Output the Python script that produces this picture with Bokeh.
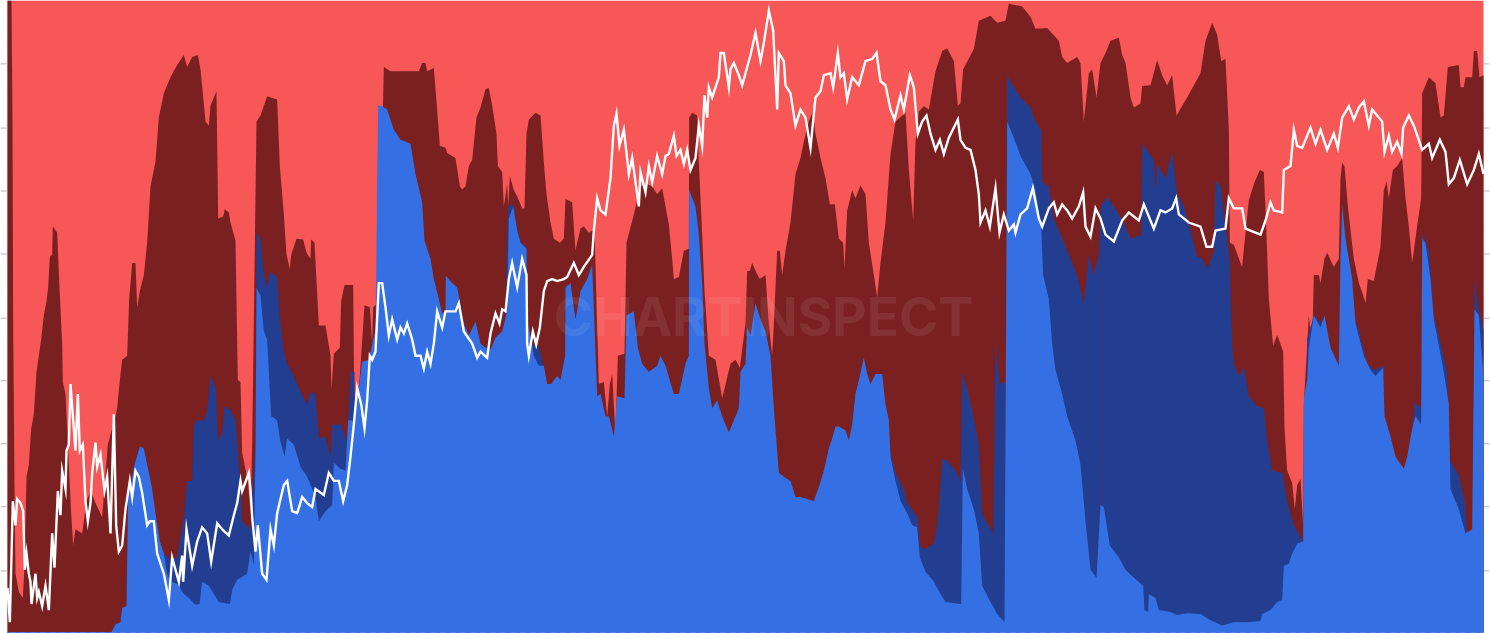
from bokeh.plotting import figure
from bokeh.embed import file_html
from bokeh.resources import INLINE
from bokeh.core.properties import value
from bokeh.models import Range1d, Span

# Readings per panel: (horizontal reading, vertical reading); panels start at 0, 1200, 2400, 3300
dark_red_a = [(21,0),(33,0),(36,300),(38,800),(42,1200),(45,1420),(55,1465),(67,1480),(72,1400),(78,1180),(85,1150),(92,1060),(100,1025),(108,920),(115,880),(122,840),(130,780),(138,745),(143,710),(148,635),(155,630),(157,560),(170,575),(178,730),(185,850),(187,945),(195,975),(205,1150),(212,1270),(218,1350),(225,1310),(245,1320),(258,1240),(270,1215),(285,1245),(305,1280),(322,1100),(345,1030),(350,1010),(358,940),(365,890),(380,880),(386,740),(395,650),(405,650),(410,760),(418,720),(430,680),(440,600),(450,460),(465,400),(475,290),(490,230),(510,190),(530,160),(550,135),(560,165),(575,140),(592,135),(600,170),(615,300),(625,310),(630,260),(648,225),(653,540),(668,535),(673,517),(685,525),(690,550),(705,595),(712,940),(720,945),(725,1120),(742,1190),(750,1270),(755,1100),(768,300),(780,285),(800,237),(830,245),(838,410),(850,530),(858,630),(868,665),(872,630),(888,590),(908,592),(918,625),(930,640),(932,592),(942,600),(955,805),(975,805),(990,880),(993,965),(1000,875),(1018,860),(1022,745),(1032,705),(1058,705),(1062,1060),(1078,930),(1092,755),(1108,760),(1115,850),(1118,760),(1130,750),(1133,300),(1146,320),(1150,165),(1170,175)]
dark_red_b = [(0,175),(40,175),(55,175),(65,155),(75,155),(80,175),(100,167),(108,250),(118,360),(135,365),(140,378),(165,390),(178,460),(185,468),(195,460),(205,410),(215,395),(228,290),(240,265),(255,220),(265,217),(275,260),(288,330),(292,410),(305,425),(310,510),(320,455),(323,510),(328,435),(340,470),(350,485),(365,515),(372,515),(378,330),(385,295),(405,278),(420,285),(430,400),(438,480),(450,550),(460,590),(478,600),(490,590),(495,492),(515,500),(525,620),(530,600),(540,565),(550,560),(565,575),(575,570),(582,570),(595,950),(610,945),(620,1030),(628,950),(635,925),(640,1000),(645,1080),(652,880),(672,875),(678,600),(700,530),(720,460),(740,455),(755,460),(770,480),(785,465),(795,510),(805,555),(815,640),(820,690),(835,685),(850,620),(865,615),(866,290),(875,278),(890,285),(895,400),(905,580),(912,720),(925,880),(945,890),(965,985),(990,900),(1005,890),(1018,910),(1035,800),(1040,670),(1048,670),(1055,650),(1068,675),(1078,690),(1095,680),(1105,800),(1115,880),(1120,800),(1130,620),(1138,620),(1145,680),(1155,620),(1170,550),(1185,430)]
dark_red_c = [(0,390),(10,350),(25,300),(38,275),(45,330),(60,390),(75,440),(88,505),(103,505),(115,590),(128,600),(132,665),(140,520),(155,470),(165,490),(180,458),(195,480),(205,600),(220,680),(230,735),(240,650),(255,550),(270,380),(285,300),(315,278),(325,420),(338,545),(345,350),(355,275),(370,262),(385,270),(405,175),(425,125),(440,118),(460,150),(472,260),(480,255),(488,170),(520,120),(535,50),(570,38),(590,55),(615,50),(625,8),(665,15),(690,40),(705,70),(740,68),(775,100),(785,140),(800,155),(830,140),(840,155),(850,300),(865,180),(875,170),(888,240)]
dark_red_d = [(0,155),(15,130),(30,100),(55,92),(65,135),(75,155),(90,240),(100,265),(120,255),(125,212),(150,210),(170,148),(185,185),(200,210),(215,185),(228,285),(260,240),(300,180),(315,100),(335,55),(350,85),(362,150),(375,145),(385,320),(388,600),(400,605),(420,650),(425,660),(432,600),(445,495),(462,450),(478,420),(490,425),(497,560),(505,740),(518,855),(530,828),(548,870),(552,1060),(560,1165),(575,1195),(583,1260),(590,1200),(600,1185),(608,1300),(610,1000),(625,780),(635,860),(640,680),(655,680),(660,700),(672,640),(680,625),(700,660),(715,640),(720,440),(725,402),(732,410),(742,510),(760,640),(775,700),(790,735),(795,750),(802,690),(820,695),(840,610),(850,470),(858,448),(865,490),(877,420),(890,410),(905,390),(915,490),(925,560),(935,650),(948,570),(962,490),(965,230),(985,190),(1005,205),(1020,290),(1030,285),(1042,165),(1075,160),(1080,215),(1090,215),(1095,190),(1115,190),(1120,125),(1130,125),(1137,190),(1149,185)]

blue_a = [(21,1564),(333,1564),(345,1545),(360,1540),(365,1505),(378,1500),(383,1230),(395,1180),(402,1150),(418,1105),(430,1110),(440,1150),(455,1210),(465,1270),(478,1340),(490,1370),(500,1420),(510,1440),(530,1445),(550,1470),(565,1480),(585,1497),(597,1495),(605,1440),(625,1450),(655,1490),(688,1495),(695,1460),(710,1435),(740,1420),(750,1365),(760,1400),(765,1120),(768,712),(780,730),(790,820),(800,840),(812,1030),(830,1040),(838,1085),(852,1130),(860,1085),(880,1100),(900,1155),(920,1180),(945,1230),(955,1290),(975,1265),(995,1250),(1000,1145),(1020,1160),(1035,1165),(1043,1040),(1060,1040),(1075,960),(1085,895),(1105,890),(1125,815),(1133,260),(1145,262),(1160,270),(1180,320)]
blue_b = [(0,345),(30,355),(45,430),(65,500),(72,595),(90,640),(100,690),(112,730),(125,775),(135,770),(136,682),(155,700),(170,710),(190,800),(205,830),(225,795),(240,850),(255,860),(270,865),(285,835),(305,820),(320,770),(325,540),(338,510),(350,570),(360,600),(378,615),(382,800),(395,855),(400,880),(415,905),(430,905),(440,950),(452,950),(470,930),(480,940),(494,880),(495,710),(510,700),(525,790),(540,720),(560,690),(575,655),(590,980),(600,975),(615,1030),(625,1030),(640,1080),(650,980),(672,985),(678,780),(700,770),(712,860),(725,900),(745,920),(770,905),(780,880),(795,905),(820,975),(835,975),(855,900),(865,880),(866,470),(885,510),(895,580),(905,700),(912,850),(925,960),(935,1010),(950,990),(965,1030),(985,1070),(1000,1040),(1015,1010),(1020,920),(1035,900),(1040,810),(1050,830),(1065,750),(1080,790),(1095,820),(1110,880),(1120,1010),(1135,1170),(1150,1180),(1170,1190),(1185,1230)]
blue_c = [(0,1230),(40,1240),(55,1205),(70,1165),(85,1110),(95,1085),(105,1055),(115,1055),(135,1065),(145,1090),(155,1050),(165,975),(178,930),(190,885),(200,925),(210,950),(225,925),(245,925),(255,1000),(265,1040),(270,1130),(285,1190),(300,1240),(320,1270),(335,1300),(350,1305),(358,1380),(375,1415),(400,1440),(420,1470),(435,1490),(482,1495),(487,1160),(500,1210),(520,1260),(535,1320),(545,1450),(570,1490),(590,1520),(612,1540),(620,300),(640,340),(660,385),(690,430),(705,470),(722,560),(728,680),(745,740),(755,850),(765,915),(785,975),(800,1030),(825,1090),(840,1150),(855,1290),(870,1410),(888,1430)]
blue_d = [(0,1250),(10,1255),(28,1350),(55,1380),(75,1410),(100,1430),(128,1450),(132,1510),(143,1515),(145,1470),(165,1480),(175,1510),(210,1515),(230,1522),(260,1518),(300,1520),(330,1535),(365,1548),(400,1540),(440,1540),(480,1537),(485,1520),(510,1510),(530,1490),(545,1485),(550,1400),(565,1395),(575,1370),(590,1345),(608,1340),(610,985),(620,940),(625,860),(640,780),(660,810),(672,780),(690,860),(715,905),(720,640),(725,505),(735,590),(755,690),(765,800),(790,880),(810,915),(825,930),(848,910),(852,1030),(870,1080),(885,1130),(910,1160),(920,1130),(935,1060),(945,1030),(962,1050),(965,590),(975,600),(990,690),(1000,790),(1030,920),(1045,1000),(1050,1210),(1075,1260),(1095,1320),(1115,1310),(1122,765),(1135,780),(1149,930)]

dark_blue_a = [(470,1340),(490,1370),(510,1385),(530,1380),(550,1280),(560,1190),(575,1190),(580,1050),(590,1040),(610,1040),(620,1020),(630,930),(645,960),(653,1090),(665,1070),(672,1005),(690,1015),(705,1040),(720,1200),(725,1290),(750,1310),(765,1100),(768,575),(780,590),(790,680),(800,710),(808,672),(830,685),(838,790),(850,870),(860,900),(880,930),(900,970),(920,1000),(930,970),(945,975),(955,1085),(975,1080),(990,1130),(995,1050),(1020,1050),(1030,1070),(1040,1095),(1050,920),(1062,920),(1065,1060),(1075,960)]
dark_blue_b = [(315,770),(323,510),(338,505),(350,565),(360,598),(378,612),(385,850),(415,855),(428,905),(440,965),(452,970),(470,940),(482,945),(494,880)]
dark_blue_c = [(255,1000),(270,1120),(285,1170),(310,1210),(320,1245),(352,1280),(358,1350),(370,1360),(400,1345),(408,1310),(415,1260),(425,1135),(440,1140),(465,1165),(480,1190),(485,920),(500,965),(515,1015),(535,1100),(545,1270),(578,1320),(585,850),(598,950),(615,945),(618,1530),(620,185),(640,215),(660,240),(690,265),(705,300),(722,320),(726,450),(745,460),(760,540),(790,600),(810,640),(830,680),(850,750),(865,630),(880,680),(895,630),(900,510)]
dark_blue_d = [(0,510),(20,487),(40,510),(70,550),(90,590),(122,580),(125,355),(160,395),(165,470),(170,405),(195,440),(215,375),(230,480),(250,510),(270,570),(290,635),(305,640),(322,665),(340,620),(345,445),(360,460),(375,560),(387,640),(395,850),(400,900),(415,930),(430,910),(445,980),(470,1005),(490,1010),(500,1090),(515,1165),(545,1170),(560,1240),(580,1300),(608,1340)]
dark_blue_e = [(620,840),(640,780),(665,800),(672,780),(685,850),(712,905)]
dark_blue_f = [(760,780),(775,820),(800,900),(820,915),(848,905)]
dark_blue_g = [(850,1040),(880,1140),(910,1165),(930,1145),(942,995),(962,1010),(965,577),(985,620),(1000,780),(1040,920),(1048,1140),(1075,1175),(1095,1250),(1100,1330),(1118,1310),(1122,690),(1135,770),(1149,815)]

white_a = [(21,1455),(28,1540),(37,1240),(45,1300),(50,1235),(60,1245),(68,1265),(73,1410),(78,1370),(85,1420),(90,1440),(93,1495),(105,1420),(110,1480),(115,1465),(125,1500),(135,1450),(145,1510),(155,1320),(162,1405),(172,1215),(180,1275),(185,1165),(195,1210),(198,1115),(205,1100),(210,950),(218,1040),(225,1115),(232,975),(238,1115),(247,1100),(255,1240),(262,1290),(270,1245),(275,1170),(285,1095),(290,1155),(300,1125),(312,1215),(320,1180),(325,1250),(330,1320),(340,1025),(347,1300),(355,1365),(365,1350),(375,1260),(388,1190),(395,1230),(405,1165),(415,1180),(425,1220),(440,1300),(448,1290),(460,1290),(470,1370),(490,1420),(505,1485),(515,1380),(525,1410),(535,1440),(545,1375),(548,1440),(558,1310),(575,1400),(590,1340),(605,1305),(620,1320),(632,1390),(650,1295),(665,1310),(685,1325),(700,1275),(710,1245),(720,1190),(725,1215),(745,1170),(750,1210),(755,1280),(765,1365),(772,1300),(785,1420),(798,1435),(810,1310),(820,1350),(830,1270),(840,1235),(850,1200),(860,1190),(875,1265),(890,1270),(905,1230),(920,1245),(935,1255),(945,1210),(970,1225),(985,1170),(1000,1190),(1015,1190),(1028,1240),(1040,1200),(1050,1130),(1060,1050),(1070,960),(1082,1000),(1092,1060),(1100,990),(1108,880),(1115,890),(1125,870),(1135,700),(1145,700),(1155,760),(1165,830),(1175,790),(1190,840)]
white_b = [(0,810),(10,825),(20,800),(35,840),(45,880),(60,880),(70,912),(80,870),(90,900),(100,850),(110,770),(125,810),(135,770),(165,770),(175,750),(190,820),(215,850),(230,885),(240,870),(260,885),(270,825),(285,775),(297,800),(305,765),(315,770),(325,690),(335,650),(350,710),(365,640),(378,680),(380,850),(385,880),(397,820),(407,852),(418,810),(430,720),(440,695),(455,690),(470,695),(490,690),(500,685),(520,650),(535,680),(550,660),(575,630),(580,570),(590,490),(600,520),(615,530),(630,440),(640,310),(648,280),(657,360),(670,320),(685,430),(695,390),(715,510),(720,425),(735,475),(745,410),(755,450),(770,385),(785,430),(795,385),(805,380),(820,335),(828,385),(840,370),(850,405),(860,370),(870,420),(885,390),(895,310),(905,360),(912,235),(920,290),(925,215),(935,240),(955,190),(960,130),(970,130),(985,215),(990,170),(1000,155),(1015,185),(1025,210),(1050,135),(1065,80),(1080,150),(1090,105),(1105,25),(1118,75),(1130,270),(1135,130),(1150,150),(1155,210),(1170,230),(1185,310)]
white_c = [(0,270),(15,290),(30,365),(45,240),(60,225),(70,185),(90,180),(98,215),(112,130),(120,190),(130,180),(140,245),(155,190),(175,210),(195,150),(215,145),(228,130),(240,200),(255,210),(270,270),(282,295),(300,235),(310,270),(328,185),(340,215),(352,330),(365,300),(378,285),(390,330),(405,370),(418,345),(430,380),(445,340),(472,295),(480,345),(495,365),(510,370),(525,420),(535,480),(540,550),(555,520),(568,560),(585,465),(597,575),(610,530),(625,570),(640,555),(645,575),(660,530),(680,515),(697,465),(715,540),(725,560),(745,515),(760,500),(770,530),(785,505),(800,520),(815,540),(835,510),(848,475),(855,560),(870,585),(885,515)]
white_d = [(0,540),(15,580),(40,597),(65,545),(85,525),(115,545),(130,505),(160,565),(180,520),(195,525),(215,515),(227,490),(235,530),(265,550),(300,560),(318,610),(335,610),(345,570),(375,565),(385,490),(400,515),(425,515),(435,565),(480,580),(495,545),(510,500),(520,520),(545,525),(550,420),(570,410),(580,320),(590,360),(605,365),(630,315),(645,355),(660,320),(680,370),(700,330),(712,365),(725,290),(745,262),(760,295),(775,265),(790,250),(805,310),(815,270),(845,300),(852,375),(865,335),(875,375),(890,350),(903,380),(908,315),(925,285),(940,310),(965,370),(985,355),(995,390),(1018,345),(1035,375),(1045,455),(1060,440),(1078,395),(1100,455),(1120,420),(1135,380),(1149,430)]

tick_values = [157, 316, 472, 628, 787, 942, 1098, 1254, 1413]
watermark = "CHARTINSPECT"

PANEL = [0, 1200, 2400, 3300]
BASE = 1568
PLOT_START, PLOT_END, WIDTH_UNITS = 21, 4449, 4470

def join(*panels):
    xs, ys = [], []
    for start, pts in panels:
        xs += [a + start for a, _ in pts]
        ys += [b for _, b in pts]
    return xs, ys

p = figure(width=1490, height=633, output_backend="svg", toolbar_location=None,
           x_range=Range1d(0, WIDTH_UNITS), y_range=Range1d(BASE, 0),
           x_axis_location=None, y_axis_location=None, min_border=0,
           background_fill_color="white", border_fill_color="white", outline_line_color=None)
p.grid.visible = False

p.varea([PLOT_START, PLOT_END], y1=[BASE, BASE], y2=[0, 0], color="#F75757")

n = len(tick_values)
p.segment([0] * n, tick_values, [18] * n, tick_values, line_color="#b4b4b4", line_width=1)
p.segment([PLOT_END] * n, tick_values, [PLOT_END + 18] * n, tick_values, line_color="#b4b4b4", line_width=1)

x, y = join((PANEL[0], dark_red_a), (PANEL[1], dark_red_b), (PANEL[2], dark_red_c), (PANEL[3], dark_red_d))
p.varea(x, y1=[BASE] * len(x), y2=y, color="#7B2020")

for start, pts in ((PANEL[0], dark_blue_a), (PANEL[1], dark_blue_b), (PANEL[2], dark_blue_c),
                   (PANEL[3], dark_blue_d), (PANEL[3], dark_blue_e), (PANEL[3], dark_blue_f), (PANEL[3], dark_blue_g)):
    x, y = join((start, pts))
    p.varea(x, y1=[BASE] * len(x), y2=y, color="#233E90")

x, y = join((PANEL[0], blue_a), (PANEL[1], blue_b), (PANEL[2], blue_c), (PANEL[3], blue_d))
p.varea(x, y1=[BASE] * len(x), y2=y, color="#3470E4")

x, y = join((PANEL[0], white_a), (PANEL[1], white_b), (PANEL[2], white_c), (PANEL[3], white_d))
p.line(x, y, line_color="white", line_width=2.4, line_join="miter")

p.text([1660], [785], text=[watermark], text_color="white", text_alpha=0.08,
       text_font=value("Inter"), text_font_style="bold", text_font_size="53px",
       text_baseline="alphabetic", text_align="left")

p.add_layout(Span(location=1566, dimension="width", line_color="white", line_alpha=0.2,
                  line_width=1, line_dash="5 5"))

html = file_html(p, INLINE).replace("</head>", "<style>html,body{margin:0 !important;padding:0 !important;overflow:hidden}</style></head>", 1)
open("out.html", "w").write(html)
